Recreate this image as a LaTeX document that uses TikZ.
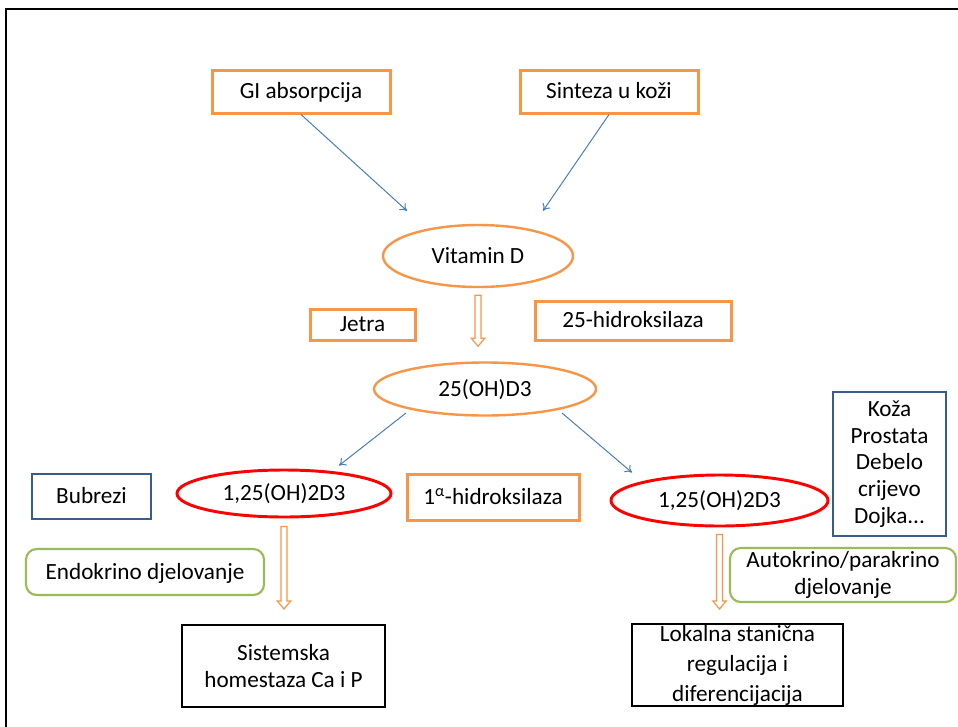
\documentclass[tikz,border=0pt]{standalone}
\usepackage{fontspec}
\setmainfont{Carlito}
\usetikzlibrary{shapes.geometric,arrows.meta,calc}
\definecolor{orng}{HTML}{F79646}
\definecolor{bluearr}{HTML}{4A7EBB}
\definecolor{bluebox}{HTML}{385D8A}
\definecolor{grn}{HTML}{9BBB59}
\definecolor{rd}{HTML}{FF0000}
\newcommand\hollowarrow[2]{\draw[orng, line width=0.9pt, fill=white, line join=miter] let \p1=(#1), \p2=(#2) in (\x1-2.2pt,\y1) -- (\x1-2.2pt,\y2+6pt) -- (\x1-5pt,\y2+6pt) -- (\x1,\y2) -- (\x1+5pt,\y2+6pt) -- (\x1+2.2pt,\y2+6pt) -- (\x1+2.2pt,\y1) -- cycle;}
\begin{document}
\begin{tikzpicture}[x=0.75pt,y=-0.75pt,
  every node/.style={font=\fontsize{17.4}{20}\selectfont, inner sep=0pt, align=center},
  sz/.style 2 args={minimum width=#1*0.75pt, minimum height=#2*0.75pt},
  sl/.style={text height=11.2pt, text depth=0pt},
  obox/.style={draw=orng, line width=2.25pt, rectangle},
  bbox/.style={draw=bluebox, line width=1.9pt, rectangle},
  kbox/.style={draw=black, line width=1.5pt, rectangle},
  gbox/.style={draw=grn, line width=1.6pt, rectangle, rounded corners=8pt},
  oell/.style={draw=orng, line width=1.8pt, ellipse},
  rell/.style={draw=rd, line width=2.2pt, ellipse},
  barr/.style={draw=bluearr, line width=0.75pt, -{To[length=5pt,width=7pt]}}]
\clip (0,0) rectangle (958,726);
\fill[white] (0,0) rectangle (958,726);
\draw[line width=1.6pt] (6,9) rectangle (990,760);

\node[obox, sl, sz={178}{43}] (gi) at (301,91.5) {GI absorpcija};
\node[obox, sl, sz={178}{43}] (skin) at (609,91.5) {Sinteza u koži};
\node[oell, sl, sz={190}{62}] (vitd) at (478,256) {Vitamin D};
\node[obox, sl, sz={105}{31}] (jetra) at (362.5,324.5) {Jetra};
\node[obox, sl, sz={196}{39}] (h25) at (633,320.5) {25-hidroksilaza};
\node[oell, sl, sz={222}{53}] (oh) at (485,389) {25(OH)D3};
\node[bbox, sl, sz={119}{45}] (bub) at (91.5,496.5) {Bubrezi};
\node[rell, sl, sz={214}{47}] (e1) at (284,493.5) {1,25(OH)2D3};
\node[obox, sl, sz={172}{46}] (alpha) at (493,497) {1\textsuperscript{α}-hidroksilaza};
\node[rell, sl, sz={217}{51}] (e2) at (719.5,500.5) {1,25(OH)2D3};
\node[bbox, sz={113}{144}] (koza) at (889.5,464) {Koža\\Prostata\\Debelo\\crijevo\\Dojka...};
\node[gbox, sl, sz={238}{46}] (endo) at (145,572) {Endokrino djelovanje};
\node[gbox, sz={226}{54}] (auto) at (843,575) {Autokrino/parakrino\\djelovanje};
\node[kbox, sz={203}{82}] (sist) at (283.5,666) {Sistemska\\homestaza Ca i P};
\node[kbox, sz={211}{82}, font=\fontsize{17.4}{22.5}\selectfont] (lok) at (737.5,665) {Lokalna stanična\\regulacija i\\diferencijacija};

\draw[barr] (gi.south) -- ($(vitd.north)+(-71,-13)$);
\draw[barr] (skin.south) -- ($(vitd.north)+(65,-13)$);
\draw[barr] ($(oh.center)+(-79,24)$) -- ($(e1.north)+(55,-3)$);
\draw[barr] ($(oh.center)+(77,24)$) -- ($(e2.north)+(-87.5,-1)$);

\hollowarrow{$(vitd.south)+(0,7)$}{$(vitd.south |- oh.north)+(0,-15)$}
\hollowarrow{$(e1.south)+(0,8)$}{$(e1.south |- sist.north)+(0,-15)$}
\hollowarrow{$(e2.south)+(0,7)$}{$(e2.south |- lok.north)+(0,-14)$}
\end{tikzpicture}
\end{document}
